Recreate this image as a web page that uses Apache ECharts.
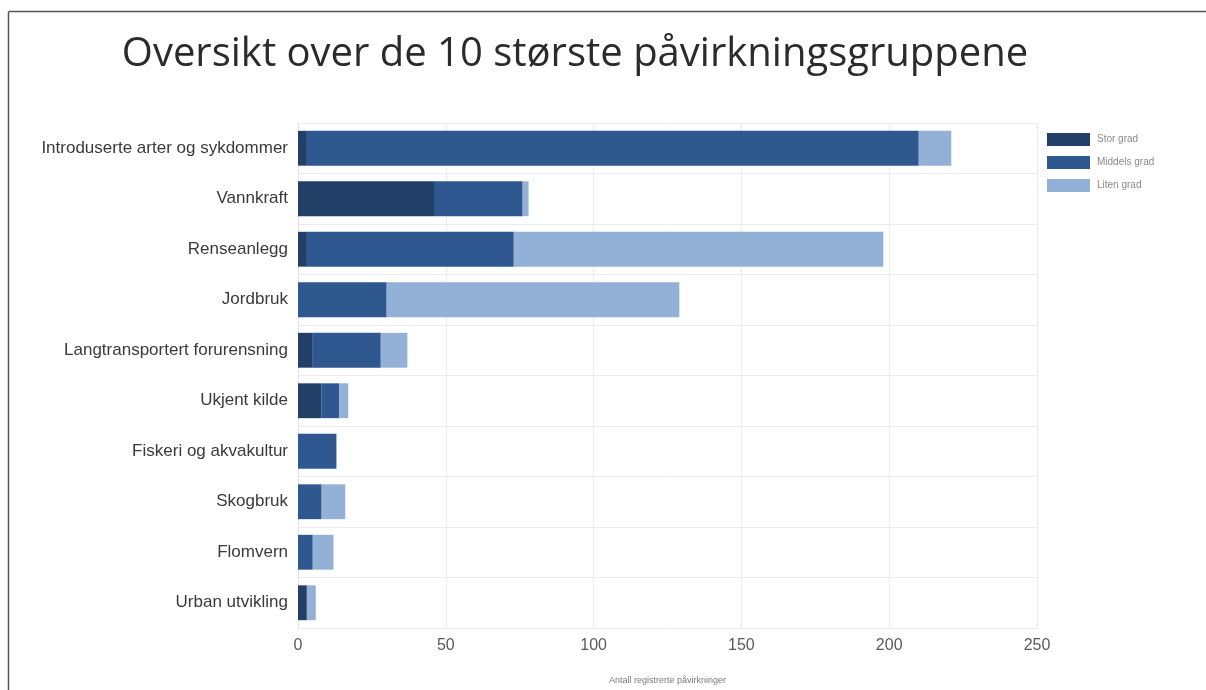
<!DOCTYPE html>
<html>
<head>
<meta charset="utf-8">
<script src="https://cdn.jsdelivr.net/npm/echarts@6/dist/echarts.min.js"></script>
<style>
  html, body { margin: 0; padding: 0; background: #fff; }
  #chart { width: 1206px; height: 690px; }
</style>
</head>
<body>
<div id="chart"></div>
<script>
// Påvirkningsgrupper, sortert etter antall registreringer
const categories = [
  'Introduserte arter og sykdommer',
  'Vannkraft',
  'Renseanlegg',
  'Jordbruk',
  'Langtransportert forurensning',
  'Ukjent kilde',
  'Fiskeri og akvakultur',
  'Skogbruk',
  'Flomvern',
  'Urban utvikling'
];
const storGrad    = [3, 46, 3, 0, 5, 8, 0, 0, 0, 3];
const middelsGrad = [207, 30, 70, 30, 23, 6, 13, 8, 5, 0];
const litenGrad   = [11, 2, 125, 99, 9, 3, 0, 8, 7, 3];
const seriesNames = ['Stor grad', 'Middels grad', 'Liten grad'];
const xTicks = { min: 0, max: 250, interval: 50 };

const colors = ['#223f67', '#2f5790', '#93b1d6'];

const chart = echarts.init(document.getElementById('chart'), null, { renderer: 'canvas' });

chart.setOption({
  animation: false,
  backgroundColor: '#ffffff',
  color: colors,
  title: {
    text: 'Oversikt over de 10 største påvirkningsgruppene',
    left: 570,
    textAlign: 'center',
    top: 30,
    textStyle: {
      fontFamily: 'Open Sans',
      fontSize: 40,
      fontWeight: 'normal',
      color: '#2b2b2b'
    }
  },
  graphic: [
    { type: 'line', shape: { x1: 8.5, y1: 11.5, x2: 1206, y2: 11.5 }, style: { stroke: '#555', lineWidth: 1.5 } },
    { type: 'line', shape: { x1: 8.5, y1: 11.5, x2: 8.5, y2: 690 }, style: { stroke: '#555', lineWidth: 1.5 } }
  ],
  legend: {
    orient: 'vertical',
    left: 1042,
    top: 128,
    itemWidth: 43,
    itemHeight: 13,
    itemGap: 10,
    icon: 'rect',
    data: seriesNames,
    textStyle: { fontFamily: 'Liberation Sans', fontSize: 10, color: '#8a8a8a', padding: [0, 0, 0, 2] }
  },
  grid: { left: 298, right: 169, top: 123, bottom: 62, containLabel: false },
  xAxis: {
    type: 'value',
    min: xTicks.min,
    max: xTicks.max,
    interval: xTicks.interval,
    name: 'Antall registrerte påvirkninger',
    nameLocation: 'middle',
    nameGap: 48,
    nameTextStyle: { fontFamily: 'Liberation Sans', fontSize: 9, color: '#7a7a7a' },
    axisLine: { show: false },
    axisTick: { show: false },
    axisLabel: { margin: 10, fontFamily: 'Liberation Sans', fontSize: 16, color: '#5a5a5a' },
    splitLine: { show: true, lineStyle: { color: '#ececec', width: 1 } }
  },
  yAxis: {
    type: 'category',
    inverse: true,
    data: categories,
    axisLine: { show: true, lineStyle: { color: '#e2e2e2' } },
    axisTick: { show: false },
    axisLabel: { margin: 10, fontFamily: 'Liberation Sans', fontSize: 17, color: '#3a3a3a' },
    splitLine: { show: true, lineStyle: { color: '#ebebeb', width: 1 } }
  },
  series: [
    { name: seriesNames[0], type: 'bar', stack: 'grad', data: storGrad, barCategoryGap: '31%' },
    { name: seriesNames[1], type: 'bar', stack: 'grad', data: middelsGrad, barCategoryGap: '31%' },
    { name: seriesNames[2], type: 'bar', stack: 'grad', data: litenGrad, barCategoryGap: '31%' }
  ]
});
</script>
</body>
</html>
